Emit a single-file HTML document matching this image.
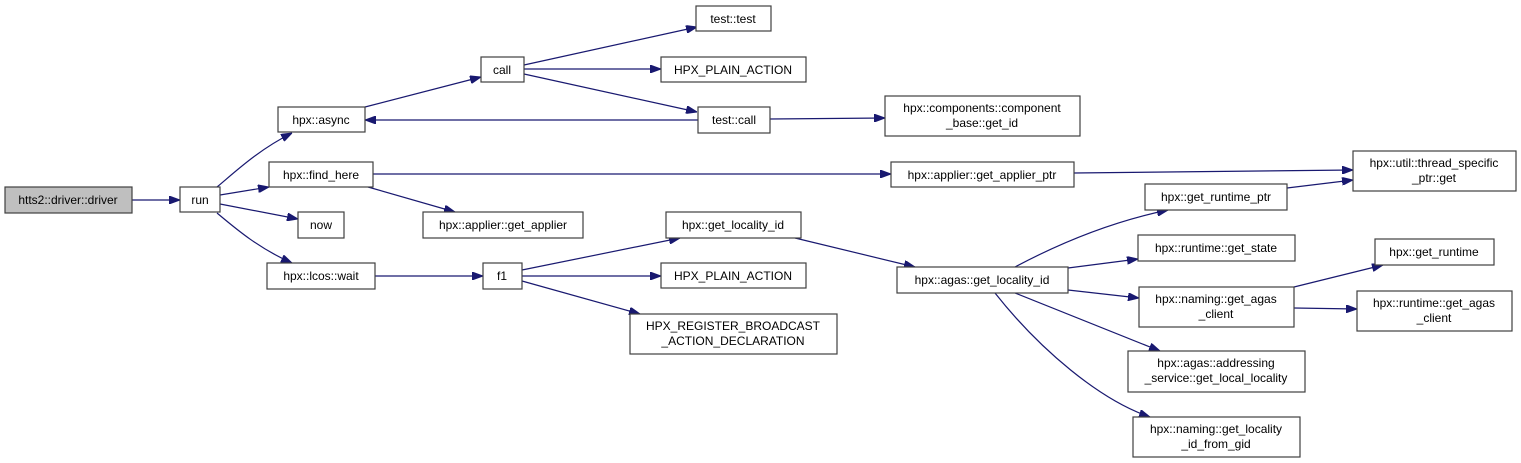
<!DOCTYPE html>
<html><head><meta charset="utf-8"><style>
html,body{margin:0;padding:0;background:#fff;}
svg{display:block;}
text{font-family:"Liberation Sans",Arial,sans-serif;font-size:12px;fill:#000;text-anchor:middle;}
rect{fill:#fff;stroke:#404040;stroke-width:1.2;}
path{fill:none;stroke:#191970;stroke-width:1.2;}
</style></head><body>
<svg width="1521" height="463" viewBox="0 0 1521 463" xmlns="http://www.w3.org/2000/svg">
<defs>
<marker id="a" markerWidth="11" markerHeight="8" refX="11" refY="4" orient="auto" markerUnits="userSpaceOnUse">
<polygon points="0,0 11,4 0,8" fill="#191970" stroke="#191970"/>
</marker>
</defs>
<g marker-end="url(#a)">
<path d="M132,200 L180,200"/>
<path d="M217,187 C235,172 258,150 292,133"/>
<path d="M220,195 L269,187"/>
<path d="M220,204 L298,219"/>
<path d="M217,213 C235,228 258,248 292,263"/>
<path d="M365,107 L481,77"/>
<path d="M698,120 L365,120"/>
<path d="M524,65 L697,27"/>
<path d="M524,69 L661,69"/>
<path d="M524,74 L697,112"/>
<path d="M770,119 L885,118"/>
<path d="M373,174 L891,174"/>
<path d="M368,187 L455,212"/>
<path d="M1074,173 L1353,170"/>
<path d="M1287,188 L1353,180"/>
<path d="M375,276 L483,276"/>
<path d="M522,270 L680,238"/>
<path d="M522,276 L661,276"/>
<path d="M522,281 L640,314"/>
<path d="M795,238 L915,267"/>
<path d="M1015,267 C1060,243 1110,222 1168,210"/>
<path d="M1068,268 L1138,259"/>
<path d="M1068,290 L1139,298"/>
<path d="M1015,293 L1160,351"/>
<path d="M995,293 C1040,350 1100,400 1150,417"/>
<path d="M1294,287 L1383,265"/>
<path d="M1294,308 L1357,309"/>
</g>
<rect x="5" y="187" width="127" height="26" style="fill:#bfbfbf"/><text x="68" y="204">htts2::driver::driver</text>
<rect x="180" y="187" width="40" height="25"/><text x="200" y="204">run</text>
<rect x="278" y="107" width="87" height="25"/><text x="321" y="124">hpx::async</text>
<rect x="269" y="162" width="104" height="25"/><text x="321" y="179">hpx::find_here</text>
<rect x="298" y="212" width="46" height="26"/><text x="321" y="229">now</text>
<rect x="267" y="263" width="108" height="26"/><text x="321" y="280">hpx::lcos::wait</text>
<rect x="481" y="57" width="43" height="25"/><text x="502" y="74">call</text>
<rect x="696" y="6" width="75" height="25"/><text x="733" y="23">test::test</text>
<rect x="661" y="57" width="145" height="25"/><text x="733" y="74">HPX_PLAIN_ACTION</text>
<rect x="698" y="107" width="72" height="26"/><text x="734" y="124">test::call</text>
<rect x="885" y="96" width="195" height="40"/><text x="982" y="112">hpx::components::component</text><text x="982" y="127">_base::get_id</text>
<rect x="891" y="162" width="183" height="25"/><text x="982" y="179">hpx::applier::get_applier_ptr</text>
<rect x="423" y="212" width="160" height="26"/><text x="503" y="229">hpx::applier::get_applier</text>
<rect x="666" y="212" width="135" height="26"/><text x="733" y="229">hpx::get_locality_id</text>
<rect x="483" y="263" width="39" height="26"/><text x="502" y="280">f1</text>
<rect x="661" y="263" width="145" height="25"/><text x="733" y="280">HPX_PLAIN_ACTION</text>
<rect x="630" y="314" width="207" height="40"/><text x="733" y="330">HPX_REGISTER_BROADCAST</text><text x="733" y="345">_ACTION_DECLARATION</text>
<rect x="897" y="267" width="171" height="26"/><text x="982" y="284">hpx::agas::get_locality_id</text>
<rect x="1353" y="151" width="163" height="40"/><text x="1434" y="167">hpx::util::thread_specific</text><text x="1434" y="182">_ptr::get</text>
<rect x="1145" y="184" width="142" height="26"/><text x="1216" y="201">hpx::get_runtime_ptr</text>
<rect x="1138" y="235" width="157" height="26"/><text x="1216" y="252">hpx::runtime::get_state</text>
<rect x="1139" y="287" width="155" height="40"/><text x="1216" y="303">hpx::naming::get_agas</text><text x="1216" y="318">_client</text>
<rect x="1128" y="351" width="177" height="41"/><text x="1216" y="367">hpx::agas::addressing</text><text x="1216" y="382">_service::get_local_locality</text>
<rect x="1133" y="417" width="167" height="40"/><text x="1216" y="433">hpx::naming::get_locality</text><text x="1216" y="448">_id_from_gid</text>
<rect x="1375" y="239" width="119" height="26"/><text x="1434" y="256">hpx::get_runtime</text>
<rect x="1357" y="291" width="155" height="40"/><text x="1434" y="307">hpx::runtime::get_agas</text><text x="1434" y="322">_client</text>
</svg>
</body></html>
